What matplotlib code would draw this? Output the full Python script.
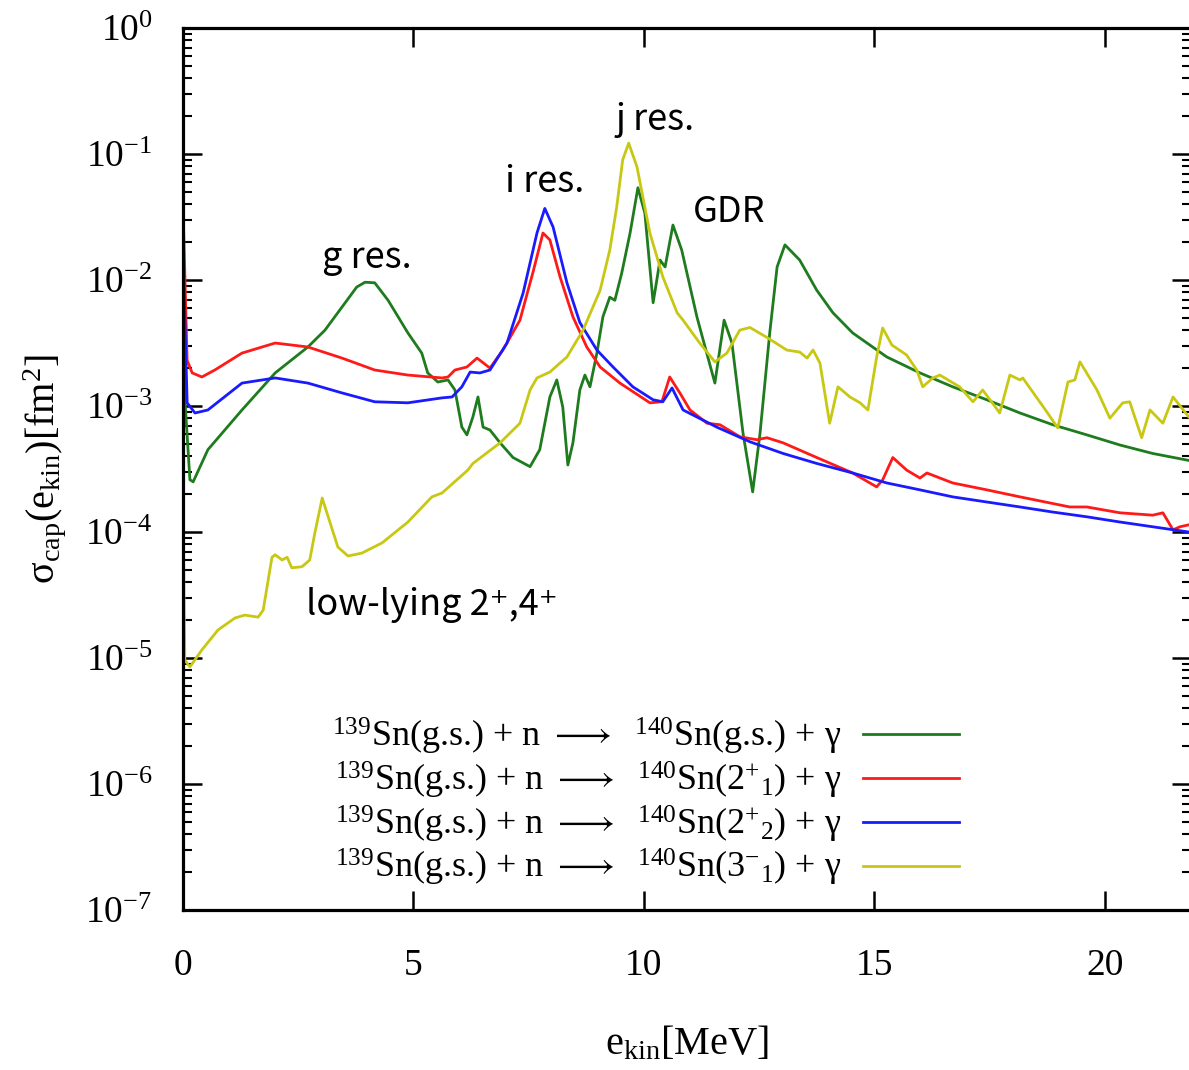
import matplotlib
matplotlib.use("Agg")
import matplotlib.pyplot as plt
from matplotlib.ticker import FixedLocator, LogLocator, NullFormatter

# ---------------- data ----------------
green_x = [0.0, 0.05, 0.15, 0.22, 0.54, 1.28, 2.00, 2.71, 3.08, 3.45, 3.77, 3.95, 4.16, 4.45, 4.88,
           5.18, 5.31, 5.53, 5.75, 5.90, 6.05, 6.16, 6.29, 6.40, 6.51, 6.66, 6.88, 7.16, 7.53, 7.74,
           7.96, 8.11, 8.24, 8.35, 8.46, 8.61, 8.72, 8.83, 8.98, 9.11, 9.26, 9.37, 9.52, 9.70, 9.87,
           10.02, 10.20, 10.35, 10.46, 10.63, 10.82, 11.15, 11.54, 11.74, 11.91, 12.15, 12.36, 12.52,
           12.73, 12.89, 13.06, 13.38, 13.75, 14.10, 14.53, 15.27, 15.99, 16.70, 17.44, 18.16, 18.87,
           19.61, 20.33, 21.04, 21.82]
green_y = [4.0e-3, 1.0e-3, 2.6e-4, 2.5e-4, 4.5e-4, 9.3e-4, 1.83e-3, 2.94e-3, 4.0e-3, 6.1e-3, 8.8e-3,
           9.6e-3, 9.5e-3, 6.9e-3, 3.8e-3, 2.63e-3, 1.83e-3, 1.55e-3, 1.61e-3, 1.34e-3, 6.8e-4, 5.9e-4,
           8.2e-4, 1.18e-3, 6.8e-4, 6.45e-4, 5.1e-4, 3.9e-4, 3.3e-4, 4.5e-4, 1.18e-3, 1.61e-3, 9.8e-4,
           3.4e-4, 5.1e-4, 1.34e-3, 1.76e-3, 1.42e-3, 2.63e-3, 5.1e-3, 7.3e-3, 6.9e-3, 1.14e-2, 2.36e-2,
           5.4e-2, 3.4e-2, 6.6e-3, 1.44e-2, 1.27e-2, 2.73e-2, 1.73e-2, 5.1e-3, 1.52e-3, 4.8e-3, 3.16e-3,
           6.1e-4, 2.08e-4, 6.1e-4, 3.8e-3, 1.27e-2, 1.9e-2, 1.44e-2, 8.3e-3, 5.5e-3, 3.8e-3, 2.45e-3,
           1.83e-3, 1.42e-3, 1.12e-3, 8.8e-4, 7.1e-4, 5.9e-4, 4.9e-4, 4.2e-4, 3.7e-4]

red_x = [0.0, 0.09, 0.20, 0.41, 0.69, 1.28, 2.00, 2.71, 3.45, 4.16, 4.88, 5.62, 5.75, 5.90, 6.16,
         6.38, 6.66, 6.94, 7.31, 7.59, 7.81, 7.96, 8.18, 8.46, 8.76, 9.05, 9.48, 10.13, 10.39, 10.56,
         10.78, 11.00, 11.37, 11.65, 12.08, 12.45, 12.67, 13.02, 13.75, 14.53, 15.05, 15.18, 15.40,
         15.70, 15.99, 16.14, 16.70, 17.44, 18.16, 19.24, 19.61, 20.33, 21.04, 21.26, 21.48, 21.63, 21.82]
red_y = [3.8e-2, 2.3e-3, 1.83e-3, 1.70e-3, 1.93e-3, 2.63e-3, 3.16e-3, 2.94e-3, 2.4e-3, 1.93e-3,
         1.76e-3, 1.67e-3, 1.70e-3, 1.93e-3, 2.04e-3, 2.4e-3, 2.0e-3, 2.78e-3, 4.8e-3, 1.14e-2,
         2.36e-2, 2.08e-2, 1.06e-2, 5.1e-3, 2.94e-3, 2.04e-3, 1.52e-3, 1.06e-3, 1.08e-3, 1.70e-3,
         1.27e-3, 9.3e-4, 7.3e-4, 7.1e-4, 5.7e-4, 5.4e-4, 5.6e-4, 5.1e-4, 3.9e-4, 2.94e-4, 2.28e-4,
         2.59e-4, 3.9e-4, 3.1e-4, 2.68e-4, 2.94e-4, 2.45e-4, 2.16e-4, 1.90e-4, 1.58e-4, 1.58e-4,
         1.42e-4, 1.36e-4, 1.42e-4, 1.04e-4, 1.10e-4, 1.14e-4]

blue_x = [0.0, 0.09, 0.26, 0.54, 1.28, 2.00, 2.71, 3.45, 4.16, 4.88, 5.62, 5.84, 6.05, 6.23, 6.44,
          6.66, 7.03, 7.38, 7.68, 7.85, 8.03, 8.33, 8.61, 8.98, 9.33, 9.76, 10.20, 10.41, 10.61, 10.85,
          11.58, 12.30, 13.02, 13.75, 14.53, 15.27, 15.99, 16.70, 17.44, 18.16, 18.87, 19.61, 20.33,
          21.04, 21.82]
blue_y = [1.83e-2, 1.06e-3, 8.8e-4, 9.3e-4, 1.52e-3, 1.67e-3, 1.52e-3, 1.27e-3, 1.08e-3, 1.06e-3,
          1.16e-3, 1.18e-3, 1.42e-3, 1.86e-3, 1.83e-3, 1.93e-3, 3.16e-3, 7.9e-3, 2.36e-2, 3.7e-2,
          2.63e-2, 9.5e-3, 4.6e-3, 2.78e-3, 2.04e-3, 1.42e-3, 1.12e-3, 1.08e-3, 1.39e-3, 9.3e-4,
          6.8e-4, 5.2e-4, 4.2e-4, 3.5e-4, 2.94e-4, 2.45e-4, 2.16e-4, 1.90e-4, 1.73e-4, 1.58e-4,
          1.44e-4, 1.32e-4, 1.20e-4, 1.10e-4, 1.0e-4]

yellow_x = [0.0, 0.04, 0.15, 0.41, 0.76, 1.13, 1.34, 1.63, 1.74, 1.93, 2.00, 2.15, 2.26, 2.36, 2.58,
            2.75, 2.86, 3.02, 3.15, 3.36, 3.58, 3.88, 4.32, 4.88, 5.40, 5.62, 6.18, 6.29, 6.88, 7.31,
            7.53, 7.68, 7.96, 8.33, 8.68, 9.05, 9.26, 9.41, 9.54, 9.67, 9.85, 10.13, 10.41, 10.72,
            10.85, 11.21, 11.54, 11.80, 12.08, 12.30, 12.67, 13.10, 13.38, 13.54, 13.67, 13.82, 14.03,
            14.21, 14.47, 14.69, 14.86, 15.05, 15.18, 15.38, 15.70, 15.92, 16.05, 16.27, 16.42, 16.85,
            17.14, 17.35, 17.51, 17.72, 17.94, 18.16, 18.22, 18.74, 18.98, 19.20, 19.35, 19.46, 19.83,
            20.11, 20.39, 20.54, 20.80, 20.98, 21.26, 21.48, 21.82]
yellow_y = [1.4e-4, 9.6e-6, 8.5e-6, 1.16e-5, 1.67e-5, 2.08e-5, 2.19e-5, 2.11e-5, 2.4e-5, 6.3e-5,
            6.6e-5, 6.0e-5, 6.3e-5, 5.2e-5, 5.3e-5, 6.0e-5, 9.8e-5, 1.86e-4, 1.32e-4, 7.6e-5, 6.45e-5,
            6.8e-5, 8.2e-5, 1.20e-4, 1.90e-4, 2.04e-4, 3.1e-4, 3.5e-4, 5.1e-4, 7.3e-4, 1.34e-3,
            1.67e-3, 1.86e-3, 2.45e-3, 4.0e-3, 8.3e-3, 1.73e-2, 3.8e-2, 9.0e-2, 1.22e-1, 7.9e-2,
            2.36e-2, 1.06e-2, 5.5e-3, 4.8e-3, 3.16e-3, 2.24e-3, 2.63e-3, 4.0e-3, 4.2e-3, 3.5e-3,
            2.78e-3, 2.68e-3, 2.4e-3, 2.78e-3, 2.19e-3, 7.3e-4, 1.42e-3, 1.18e-3, 1.06e-3, 9.3e-4,
            2.45e-3, 4.16e-3, 3.05e-3, 2.54e-3, 1.93e-3, 1.42e-3, 1.67e-3, 1.76e-3, 1.42e-3, 1.08e-3,
            1.34e-3, 1.12e-3, 8.8e-4, 1.76e-3, 1.61e-3, 1.67e-3, 9.0e-4, 6.7e-4, 1.55e-3, 1.61e-3,
            2.24e-3, 1.34e-3, 8.0e-4, 1.06e-3, 1.08e-3, 5.6e-4, 9.3e-4, 7.3e-4, 1.18e-3, 8.2e-4]

series_labels = [
    r"$^{139}$Sn(g.s.) + n $\longrightarrow$  $^{140}$Sn(g.s.) + γ",
    r"$^{139}$Sn(g.s.) + n $\longrightarrow$  $^{140}$Sn(2$^{+}{}_{1}$) + γ",
    r"$^{139}$Sn(g.s.) + n $\longrightarrow$  $^{140}$Sn(2$^{+}{}_{2}$) + γ",
    r"$^{139}$Sn(g.s.) + n $\longrightarrow$  $^{140}$Sn(3$^{-}{}_{1}$) + γ",
]
series_colors = ["#1e7b1e", "#ff1a1a", "#1a1aff", "#c8c814"]

x_ticks = [0, 5, 10, 15, 20]
y_ticks = [1e-7, 1e-6, 1e-5, 1e-4, 1e-3, 1e-2, 1e-1, 1e0]

annotations = [
    ("g res.", 3.99, 1.5e-2),
    ("i res.", 7.85, 6.0e-2),
    ("j res.", 10.24, 1.86e-1),
    ("GDR", 11.84, 3.47e-2),
    ("low-lying 2⁺,4⁺", 5.40, 2.64e-5),
]

# ---------------- style ----------------
plt.rcParams["font.family"] = ["Liberation Serif", "DejaVu Serif"]
plt.rcParams["mathtext.fontset"] = "custom"
plt.rcParams["mathtext.rm"] = "Liberation Serif"
plt.rcParams["mathtext.it"] = "Liberation Serif:italic"
plt.rcParams["mathtext.bf"] = "Liberation Serif:bold"
plt.rcParams["mathtext.fallback"] = "stix"

fig = plt.figure(figsize=(11.89, 10.70), dpi=100)
ax = fig.add_axes([183 / 1189, 1 - 910 / 1070, (1191 - 183) / 1189, (910 - 28) / 1070])

data = [(green_x, green_y), (red_x, red_y), (blue_x, blue_y), (yellow_x, yellow_y)]
for (xs, ys), c, lab in zip(data, series_colors, series_labels):
    ax.plot(xs, ys, color=c, lw=2.0, label=lab, solid_joinstyle="round")

ax.set_yscale("log")
ax.set_xlim(0, 21.87)
ax.set_ylim(1e-7, 1)
ax.xaxis.set_major_locator(FixedLocator(x_ticks))
ax.yaxis.set_major_locator(FixedLocator(y_ticks))
ax.yaxis.set_minor_locator(LogLocator(base=10, subs=range(2, 10), numticks=20))
ax.yaxis.set_minor_formatter(NullFormatter())

for s in ax.spines.values():
    s.set_linewidth(2.3)
ax.tick_params(axis="both", which="major", direction="in", length=14, width=1.8,
               top=True, right=True, labelsize=27)
ax.tick_params(axis="y", which="minor", direction="in", length=6.5, width=1.5,
               left=True, right=True)
ax.tick_params(axis="x", which="major", pad=28)
ax.tick_params(axis="y", which="major", pad=22)

ax.set_xlabel(r"e$_{\mathrm{kin}}$[MeV]", fontsize=29, labelpad=30)
ax.set_ylabel(r"σ$_{\mathrm{cap}}$(e$_{\mathrm{kin}}$)[fm$^{2}$]", fontsize=29, labelpad=12)

for txt, xv, yv in annotations:
    ax.text(xv, yv, txt, ha="center", va="center", fontsize=26,
            family=["Noto Sans CJK JP", "DejaVu Sans"])

leg = ax.legend(loc="lower right", bbox_to_anchor=(0.784, 0.008), frameon=False,
                markerfirst=False, fontsize=26, handlelength=2.65, handletextpad=0.6,
                labelspacing=0.08, borderaxespad=0.0)

fig.savefig("out.png", dpi=100)
